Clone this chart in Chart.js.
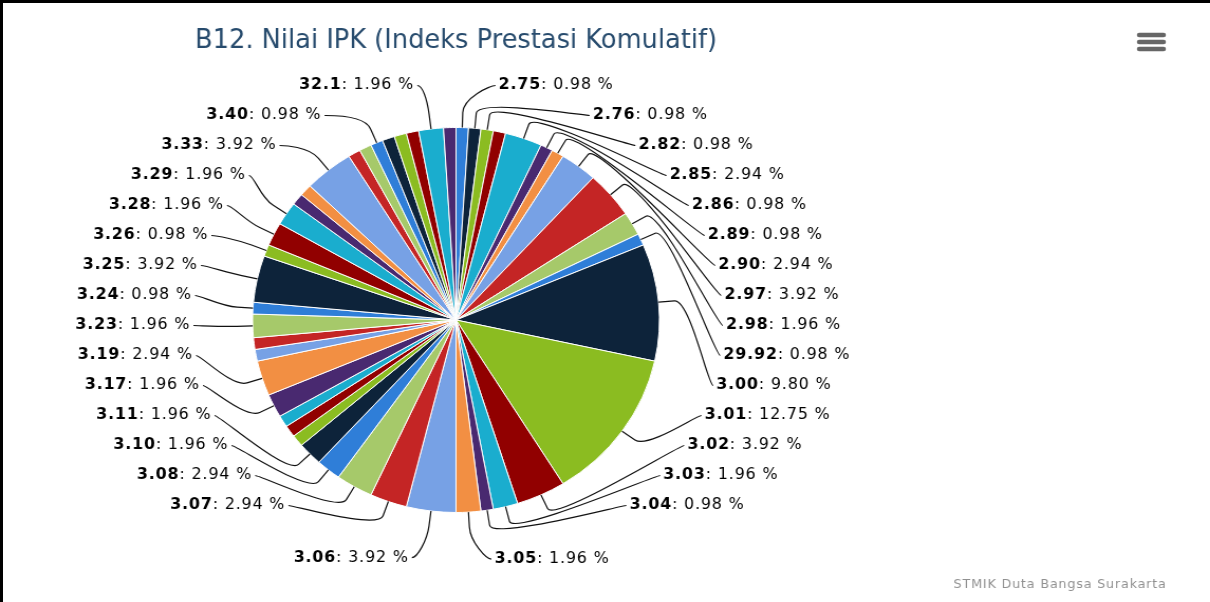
<!DOCTYPE html>
<html>
<head>
<meta charset="utf-8">
<title>B12. Nilai IPK</title>
<script src="https://cdn.jsdelivr.net/npm/chart.js@4.4.1/dist/chart.umd.min.js"></script>
<style>
  html, body { margin: 0; padding: 0; background: #fff; }
  #frame { position: relative; width: 1210px; height: 602px; overflow: hidden; }
  /* the source picture is slightly stretched sideways */
  #stretch { position: absolute; left: 0; top: 0; width: 1145px; height: 602px; transform: scaleX(1.0568); transform-origin: 0 0; }
  .edge { position: absolute; background: #000; }
</style>
</head>
<body>
<div id="frame">
  <div id="stretch"><canvas id="myChart" width="1145" height="602"></canvas></div>
  <div class="edge" style="left:0;top:0;width:1210px;height:3px"></div>
  <div class="edge" style="left:0;top:0;width:3px;height:602px"></div>
</div>
<script>
var chartTitle = 'B12. Nilai IPK (Indeks Prestasi Komulatif)';
var categories = ['2.75', '2.76', '2.82', '2.84', '2.85', '2.86', '2.89', '2.90', '2.97', '2.98',
                  '29.92', '3.00', '3.01', '3.02', '3.03', '3.04', '3.05', '3.06', '3.07', '3.08',
                  '3.10', '3.11', '3.12', '3.14', '3.15', '3.17', '3.19', '3.20', '3.21', '3.23',
                  '3.24', '3.25', '3.26', '3.28', '3.29', '3.30', '3.31', '3.33', '3.35', '3.38',
                  '3.40', '3.43', '3.50', '3.60', '32.1', '33.0'];
var percents = [0.98, 0.98, 0.98, 0.98, 2.94, 0.98, 0.98, 2.94, 3.92, 1.96,
                0.98, 9.80, 12.75, 3.92, 1.96, 0.98, 1.96, 3.92, 2.94, 2.94,
                1.96, 1.96, 0.98, 0.98, 0.98, 1.96, 2.94, 0.98, 0.98, 1.96,
                0.98, 3.92, 0.98, 1.96, 1.96, 0.98, 0.98, 3.92, 0.98, 0.98,
                0.98, 0.98, 0.98, 0.98, 1.96, 0.98];
// slices the original chart left without a label (no room for them)
var unlabeled = ['2.84', '3.12', '3.14', '3.15', '3.20', '3.21', '3.30', '3.31',
                 '3.35', '3.38', '3.43', '3.50', '3.60', '33.0'];

var palette = ['#2f7ed8', '#0d233a', '#8bbc21', '#910000', '#1aadce',
               '#492970', '#f28f43', '#77a1e5', '#c42525', '#a6c96a'];
var sliceColors = categories.map(function (c, i) { return palette[i % palette.length]; });

var labelFont = '"DejaVu Sans", Verdana, sans-serif';

// labels stacked down each side with curved connectors
var sideLabels = {
    id: 'sideLabels',
    afterDatasetsDraw: function (chart) {
        var ctx = chart.ctx;
        var arcs = chart.getDatasetMeta(0).data;
        var cx = arcs[0].x, cy = arcs[0].y, r = arcs[0].outerRadius;
        var right = [], left = [];
        arcs.forEach(function (arc, i) {
            if (unlabeled.indexOf(categories[i]) !== -1) return;
            var mid = (arc.startAngle + arc.endAngle) / 2;
            (Math.cos(mid) >= 0 ? right : left).push({ i: i, mid: mid });
        });
        left.reverse();

        ctx.save();
        ctx.letterSpacing = '0.8px';
        ctx.textBaseline = 'middle';
        ctx.textAlign = 'left';
        ctx.strokeStyle = '#111';
        ctx.lineWidth = 1.2;
        [right, left].forEach(function (list, s) {
            var isLeft = s === 1;
            var n = list.length;
            var top = cy - r - 42;
            var b = r + 47, a = r + (isLeft ? 59 : 63);
            list.forEach(function (lab, k) {
                var y = top + 30 * k;
                if (k === n - 1) {
                    var natural = cy + b * Math.sin(lab.mid);
                    y = Math.min(Math.max(y, natural), top + 30 * n);
                }
                var dy = (y - cy - 2) / b;
                var dx = a * Math.sqrt(Math.max(0, 1 - dy * dy));
                var tx = isLeft ? cx - dx : cx + dx;
                var dir = isLeft ? 1 : -1;
                var cos = Math.cos(lab.mid), sin = Math.sin(lab.mid);
                var off = 15;

                ctx.beginPath();
                ctx.moveTo(tx + dir * 3, y);
                ctx.bezierCurveTo(tx + dir * 8, y,
                    cx + (r + 2 * off) * cos, cy + (r + 2 * off) * sin,
                    cx + (r + off) * cos, cy + (r + off) * sin);
                ctx.lineTo(cx + r * cos, cy + r * sin);
                ctx.stroke();

                var name = categories[lab.i];
                var rest = ': ' + percents[lab.i].toFixed(2) + ' %';
                ctx.font = 'bold 15px ' + labelFont;
                var w1 = ctx.measureText(name).width;
                ctx.font = '15px ' + labelFont;
                var w2 = ctx.measureText(rest).width;
                var x0 = isLeft ? tx - w1 - w2 : tx;
                ctx.fillStyle = '#000';
                ctx.font = 'bold 15px ' + labelFont;
                ctx.fillText(name, x0, y);
                ctx.font = '15px ' + labelFont;
                ctx.fillText(rest, x0 + w1, y);
            });
        });
        ctx.restore();
    }
};

// title, menu button and credits text
var extras = {
    id: 'extras',
    afterDraw: function (chart) {
        var ctx = chart.ctx;
        var area = chart.chartArea;
        ctx.save();
        ctx.fillStyle = '#274b6d';
        ctx.font = '27px "DejaVu Sans", sans-serif';
        ctx.textAlign = 'center';
        ctx.textBaseline = 'middle';
        // narrow face: squeeze the glyphs a little
        ctx.translate((area.left + area.right) / 2, 41);
        ctx.scale(0.9, 1);
        ctx.fillText(chartTitle, 0, 0);
        ctx.restore();

        ctx.save();
        ctx.strokeStyle = '#666';
        ctx.lineWidth = 4.5;
        ctx.lineCap = 'round';
        [35, 42, 49].forEach(function (y) {
            ctx.beginPath();
            ctx.moveTo(1078, y);
            ctx.lineTo(1101, y);
            ctx.stroke();
        });
        ctx.letterSpacing = '0.8px';
        ctx.fillStyle = '#909090';
        ctx.font = '12px ' + labelFont;
        ctx.textAlign = 'right';
        ctx.textBaseline = 'middle';
        ctx.fillText('STMIK Duta Bangsa Surakarta', 1104, 585);
        ctx.restore();
    }
};

var ctx = document.getElementById('myChart').getContext('2d');
var chart = new Chart(ctx, {
    type: 'pie',
    data: {
        labels: categories,
        datasets: [{
            data: percents,
            backgroundColor: sliceColors,
            borderColor: '#ffffff',
            borderWidth: 1
        }]
    },
    options: {
        responsive: false,
        animation: false,
        devicePixelRatio: 1,
        layout: { padding: { top: 127, bottom: 89, left: 238.5, right: 520.5 } },
        plugins: {
            legend: { display: false },
            tooltip: { enabled: false },
            title: { display: false }
        }
    },
    plugins: [sideLabels, extras]
});
</script>
</body>
</html>
